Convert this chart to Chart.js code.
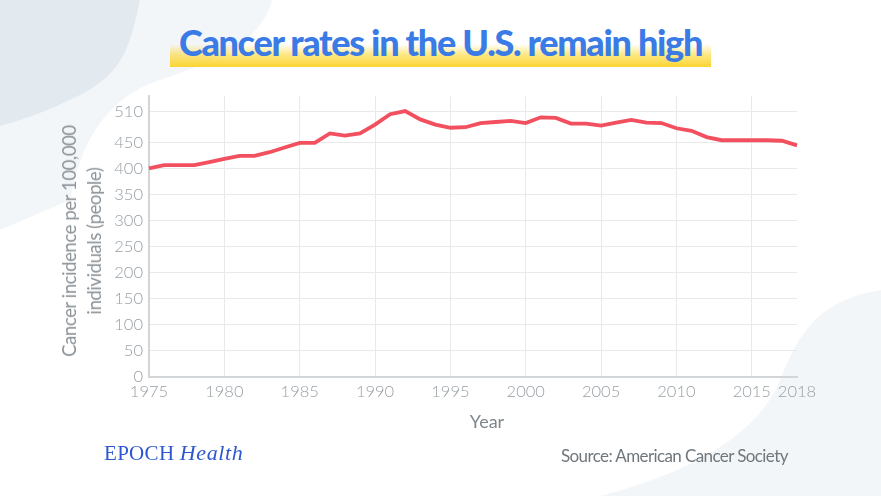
<!DOCTYPE html>
<html>
<head>
<meta charset="utf-8">
<script src="https://cdn.jsdelivr.net/npm/chart.js@4.4.1/dist/chart.umd.min.js"></script>
<style>
  html, body { margin:0; padding:0; background:#ffffff; }
  #wrap { position:relative; width:881px; height:496px; overflow:hidden; background:#fff; }
  #bg { position:absolute; left:0; top:0; }
  #chartBox { position:absolute; left:0; top:0; width:881px; height:496px; }
  .t { position:absolute; white-space:nowrap; }
  #hl { position:absolute; left:170px; top:44px; width:541px; height:23px;
        background:linear-gradient(to bottom, rgba(253,216,53,0) 0%, rgba(253,216,53,0.6) 45%, #fbd532 100%); }
  #title { left:0; width:881px; text-align:center; top:20px; font-family:Lato, sans-serif; font-weight:900;
           font-size:36px; color:#3a7be6; letter-spacing:-1.3px; }
  #ytitle { left:82px; top:241px; transform:translate(-50%,-50%) rotate(-90deg); text-align:center;
            font-family:Lato, sans-serif; font-size:18.5px; line-height:25px; color:#8c9398; letter-spacing:-0.4px; }
  #xtitle { left:487px; top:421px; transform:translate(-50%,-50%); font-family:Lato, sans-serif; font-size:18px; color:#7e868b; }
  #src { left:561px; top:445px; font-family:Lato, sans-serif; font-size:17px; color:#6f777c; letter-spacing:-0.6px; }
  #logo { left:104px; top:440px; font-family:"Liberation Serif", "DejaVu Serif", serif; font-size:22px; color:#2d58cf; }
  #logo .e { letter-spacing:0.3px; font-size:21px; }
  #logo .h { font-style:italic; letter-spacing:0.6px; }
</style>
</head>
<body>
<div id="wrap">
  <svg id="bg" width="881" height="496">
    <path d="M0,0 L272,0 C262,40 220,60 160,80 C100,100 80,150 70,200 L0,230 Z" fill="#f3f6f8"/>
    <path d="M0,0 L140,0 C130,50 120,75 80,95 C40,115 20,120 0,126 Z" fill="#e2e9ef"/>
    <path d="M881,290 C820,300 800,330 780,380 C760,430 700,470 600,496 L881,496 Z" fill="#f3f6f8"/>
  </svg>
  <div id="hl"></div>
  <div class="t" id="title">Cancer rates in the U.S. remain high</div>
  <div id="chartBox"><canvas id="c" width="881" height="496"></canvas></div>
  <div class="t" id="ytitle">Cancer incidence per 100,000<br>individuals (people)</div>
  <div class="t" id="xtitle">Year</div>
  <div class="t" id="src">Source: American Cancer Society</div>
  <div class="t" id="logo"><span class="e">EPOCH</span> <span class="h">Health</span></div>
</div>
<script>
const years = [1975,1976,1977,1978,1979,1980,1981,1982,1983,1984,1985,1986,1987,1988,1989,1990,1991,1992,1993,1994,1995,1996,1997,1998,1999,2000,2001,2002,2003,2004,2005,2006,2007,2008,2009,2010,2011,2012,2013,2014,2015,2016,2017,2018];
const incidence = [401,407,407,407,413,419,425,425,432,441,450,450,468,464,468,485,505,511,495,485,479,480,488,490,492,488,499,498,487,487,483,489,494,489,488,478,473,461,455,455,455,455,454,445];
const xTicks = [1975,1980,1985,1990,1995,2000,2005,2010,2015,2018];
const yTicks = [0,50,100,150,200,250,300,350,400,450,510];

const tickFont = { family: 'Lato', size: 16.5, weight: '300' };
const tickColor = '#98a0a5';

new Chart(document.getElementById('c'), {
  type: 'line',
  data: {
    datasets: [{
      data: years.map((y, i) => ({ x: y, y: incidence[i] })),
      borderColor: '#f2505f',
      borderWidth: 3.8,
      pointRadius: 0,
      tension: 0,
      fill: false,
      clip: false
    }]
  },
  options: {
    responsive: false,
    animation: false,
    layout: { padding: { left: 0, right: 84, top: 96, bottom: 0 } },
    plugins: { legend: { display: false }, tooltip: { enabled: false } },
    scales: {
      x: {
        type: 'linear', min: 1975, max: 2018,
        afterBuildTicks: s => { s.ticks = xTicks.map(v => ({ value: v })); },
        afterFit: s => { s.height = 119; },
        ticks: { font: tickFont, color: tickColor, padding: 5, maxRotation: 0, autoSkip: false,
                 callback: v => String(v) },
        grid: { drawTicks: false, color: ctx => (ctx.tick && ctx.tick.value === 2018) ? 'rgba(0,0,0,0)' : '#e8e9ea', lineWidth: 1 },
        border: { color: '#d3d6d8', width: 2 }
      },
      y: {
        type: 'linear', min: 0, max: 540,
        afterBuildTicks: s => { s.ticks = yTicks.map(v => ({ value: v })); },
        afterFit: s => { s.width = 149; },
        ticks: { font: tickFont, color: tickColor, padding: 6, autoSkip: false, callback: v => String(v) },
        grid: { drawTicks: false, color: '#e8e9ea', lineWidth: 1 },
        border: { color: '#d3d6d8', width: 2 }
      }
    }
  }
});
</script>
</body>
</html>
